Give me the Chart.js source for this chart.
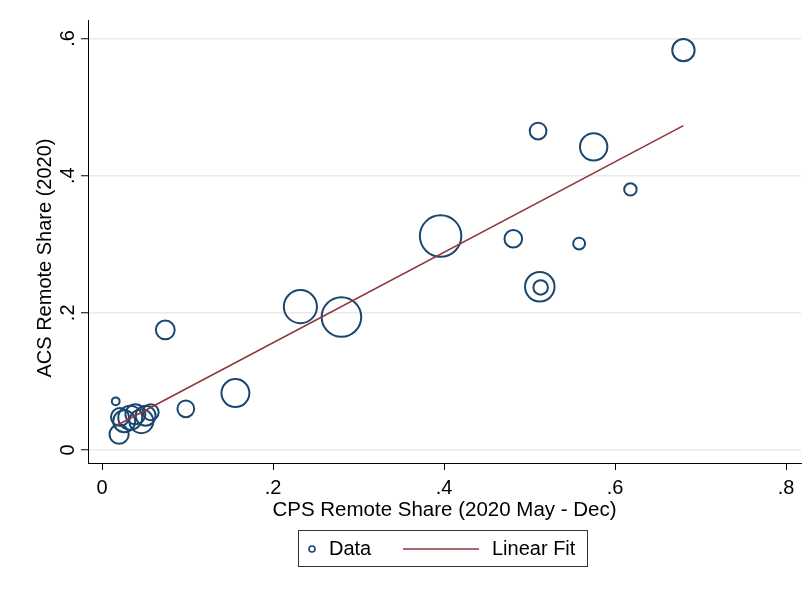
<!DOCTYPE html>
<html>
<head>
<meta charset="utf-8">
<script src="https://cdn.jsdelivr.net/npm/chart.js@4"></script>
<style>
  html, body { margin: 0; padding: 0; background: #fff; }
  #wrap { width: 809px; height: 593px; }
</style>
</head>
<body>
<div id="wrap"><canvas id="myChart" width="809" height="593"></canvas></div>
<script>
// CPS share (x), ACS share (y), weight (marker area)
const cpsShare = [0.680, 0.510, 0.575, 0.618, 0.396, 0.481, 0.558, 0.512, 0.513, 0.232, 0.280,
  0.074, 0.156, 0.098, 0.016, 0.020, 0.021, 0.026, 0.033, 0.039, 0.046, 0.051, 0.057];
const acsShare = [0.583, 0.465, 0.442, 0.380, 0.312, 0.308, 0.301, 0.238, 0.237, 0.209, 0.194,
  0.175, 0.083, 0.060, 0.071, 0.023, 0.048, 0.042, 0.047, 0.052, 0.042, 0.050, 0.055];
const weights = [37, 22, 54, 13, 118, 24, 12, 62, 17, 77, 108,
  27, 56, 22, 6, 28, 25, 36, 42, 30, 42, 30, 20];

// fitted line endpoints
const fitX = [0.016, 0.680];
const fitY = [0.035, 0.473];

const xTicks = [0, 0.2, 0.4, 0.6, 0.8];
const yTicks = [0, 0.2, 0.4, 0.6];

const navy = '#1a476f';
const maroon = '#90353b';
const FONT = 'Liberation Sans, Arial, sans-serif';

const fmt = v => v === 0 ? '0' : String(+v.toFixed(1)).replace(/^0/, '');

const extras = {
  id: 'extras',
  afterDraw(chart) {
    const { ctx, scales } = chart;
    ctx.save();
    ctx.fillStyle = '#000';
    ctx.font = '20px ' + FONT;
    ctx.textAlign = 'center';
    ctx.textBaseline = 'middle';
    // y tick labels, rotated like Stata
    yTicks.forEach(v => {
      const y = scales.y.getPixelForValue(v);
      ctx.save();
      ctx.translate(68, y);
      ctx.rotate(-Math.PI / 2);
      ctx.fillText(fmt(v), 0, 0);
      ctx.restore();
    });
    // y title
    ctx.save();
    ctx.translate(45, 258);
    ctx.rotate(-Math.PI / 2);
    ctx.fillText('ACS Remote Share (2020)', 0, 0);
    ctx.restore();

    // legend
    ctx.strokeStyle = '#333';
    ctx.lineWidth = 1;
    ctx.strokeRect(298.5, 530.5, 289, 36);
    ctx.strokeStyle = navy;
    ctx.lineWidth = 1.6;
    ctx.beginPath();
    ctx.arc(312, 549, 3, 0, Math.PI * 2);
    ctx.stroke();
    ctx.textAlign = 'left';
    ctx.fillText('Data', 329, 549);
    ctx.strokeStyle = maroon;
    ctx.lineWidth = 1.6;
    ctx.beginPath();
    ctx.moveTo(403, 549);
    ctx.lineTo(479, 549);
    ctx.stroke();
    ctx.fillText('Linear Fit', 492, 549);
    ctx.restore();
  }
};

const ctx = document.getElementById('myChart');

const myChart = new Chart(ctx, {
  type: 'scatter',
  plugins: [extras],
  data: {
    datasets: [
      {
        label: 'Linear Fit',
        type: 'line',
        data: fitX.map((x, i) => ({ x: x, y: fitY[i] })),
        borderColor: maroon,
        borderWidth: 1.6,
        pointRadius: 0,
        fill: false,
        tension: 0,
        order: 0,
      },
      {
        label: 'Data',
        data: cpsShare.map((x, i) => ({ x: x, y: acsShare[i] })),
        pointRadius: weights.map(w => 2 * Math.sqrt(w) - 1),
        pointHoverRadius: weights.map(w => 2 * Math.sqrt(w) - 1),
        backgroundColor: 'rgba(0,0,0,0)',
        borderColor: navy,
        pointBorderWidth: 2,
        order: 1,
      },
    ],
  },
  options: {
    responsive: false,
    animation: false,
    layout: {
      autoPadding: false,
      padding: { left: 0, top: 20, right: 8, bottom: 70 },
    },
    plugins: {
      legend: { display: false },
      tooltip: { enabled: false },
    },
    scales: {
      x: {
        type: 'linear',
        min: -0.0164,
        max: 0.8175,
        afterFit: s => { s.height = 60; s.paddingLeft = 0; s.paddingRight = 0; },
        afterBuildTicks: s => { s.ticks = xTicks.map(v => ({ value: v })); },
        grid: {
          drawOnChartArea: false,
          drawTicks: true,
          tickLength: 7,
          tickColor: '#000',
        },
        border: { display: true, color: '#000', width: 1 },
        ticks: {
          padding: 6,
          color: '#000',
          maxRotation: 0,
          font: { family: FONT, size: 20 },
          callback: v => fmt(v),
        },
        title: {
          display: true,
          text: 'CPS Remote Share (2020 May - Dec)',
          color: '#000',
          font: { family: FONT, size: 20.5 },
          padding: { top: 1, bottom: 0 },
        },
      },
      y: {
        type: 'linear',
        min: -0.019,
        max: 0.627,
        afterFit: s => { s.width = 88; s.paddingTop = 0; s.paddingBottom = 0; },
        afterBuildTicks: s => { s.ticks = yTicks.map(v => ({ value: v })); },
        grid: {
          color: '#eaeaea',
          lineWidth: 1.5,
          drawTicks: true,
          tickLength: 7,
          tickColor: '#000',
          tickWidth: 1,
        },
        border: { display: true, color: '#000', width: 1 },
        ticks: { display: false },
      },
    },
  },
});
</script>
</body>
</html>
